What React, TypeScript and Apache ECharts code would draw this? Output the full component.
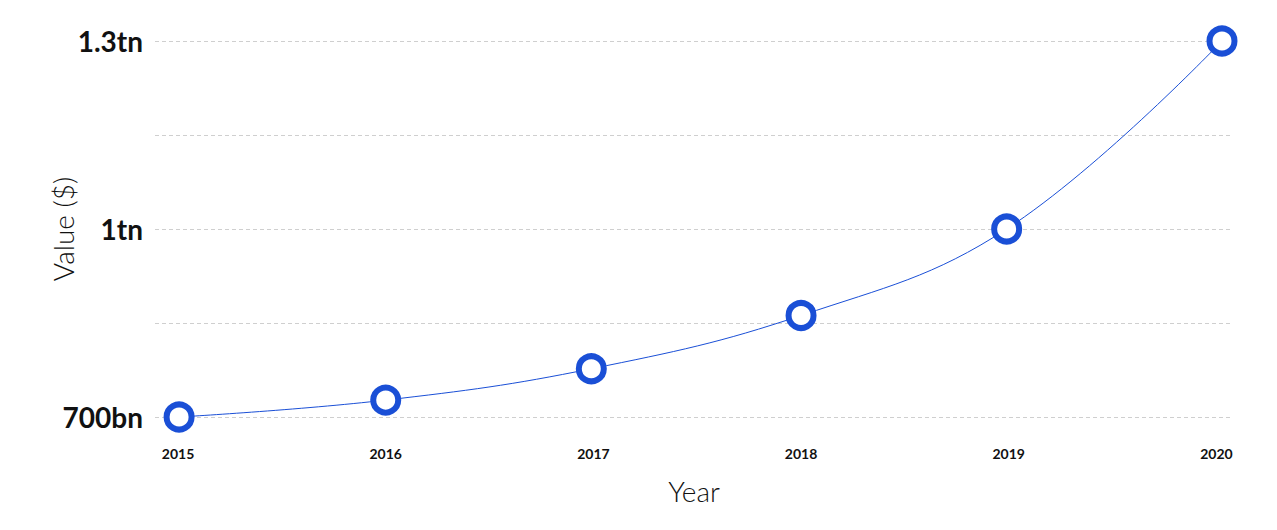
import React, { useEffect, useRef } from "react";
import * as echarts from "echarts";

const years = [2015, 2016, 2017, 2018, 2019, 2020];
const pointYears = [2015.005, 2016.0, 2016.99, 2018.0, 2018.99, 2020.027];
const valuesBn = [700, 727, 777, 862, 1000, 1300];
const yTickValues = [700, 1000, 1300];
const yTickLabels = ["700bn", "1tn", "1.3tn"];

const FONT = "Lato, 'Open Sans', sans-serif";

export default function App() {
  const ref = useRef<HTMLDivElement>(null);
  useEffect(() => {
    document.body.style.margin = "0";
    const chart = echarts.init(ref.current!, null, { renderer: "svg" });
    chart.setOption({
      animation: false,
      grid: { left: 155, right: 44, top: 41, bottom: 113, containLabel: false },
      xAxis: {
        type: "value",
        min: 2014.889,
        max: 2020.08,
        name: "Year",
        nameLocation: "middle",
        nameGap: 60,
        nameMoveOverlap: false,
        nameTextStyle: { fontFamily: FONT, fontSize: 28, fontWeight: 300, color: "#111" },
        axisLine: { show: false },
        axisTick: { show: false },
        splitLine: { show: false },
        axisLabel: {
          customValues: years,
          formatter: (v: number) => String(Math.round(v)),
          fontFamily: FONT,
          fontSize: 14,
          fontWeight: "bold",
          color: "#111",
          margin: 29,
        },
      },
      yAxis: {
        type: "value",
        min: 700,
        max: 1300,
        interval: 150,
        name: "Value ($)",
        nameLocation: "middle",
        nameGap: 78,
        nameMoveOverlap: false,
        nameTextStyle: { fontFamily: FONT, fontSize: 28, fontWeight: 300, color: "#111" },
        axisLine: { show: false },
        axisTick: { show: false },
        splitLine: { show: true, lineStyle: { color: "#cfcfcf", type: [4, 3], width: 1 } },
        axisLabel: {
          formatter: (v: number) => {
            const i = yTickValues.indexOf(Math.round(v));
            return i >= 0 ? yTickLabels[i] : "";
          },
          fontFamily: FONT,
          fontSize: 28,
          fontWeight: "bold",
          color: "#111",
          margin: 12,
        },
      },
      series: [
        {
          type: "line",
          data: pointYears.map((y, i) => [y, valuesBn[i]]),
          smooth: 0.4,
          symbol: "circle",
          symbolSize: 25,
          lineStyle: { color: "#1a4fd6", width: 1 },
          itemStyle: { color: "#ffffff", borderColor: "#1a4fd6", borderWidth: 6 },
          z: 3,
        },
      ],
    });
    return () => chart.dispose();
  }, []);
  return <div ref={ref} style={{ width: 1277, height: 530 }} />;
}
